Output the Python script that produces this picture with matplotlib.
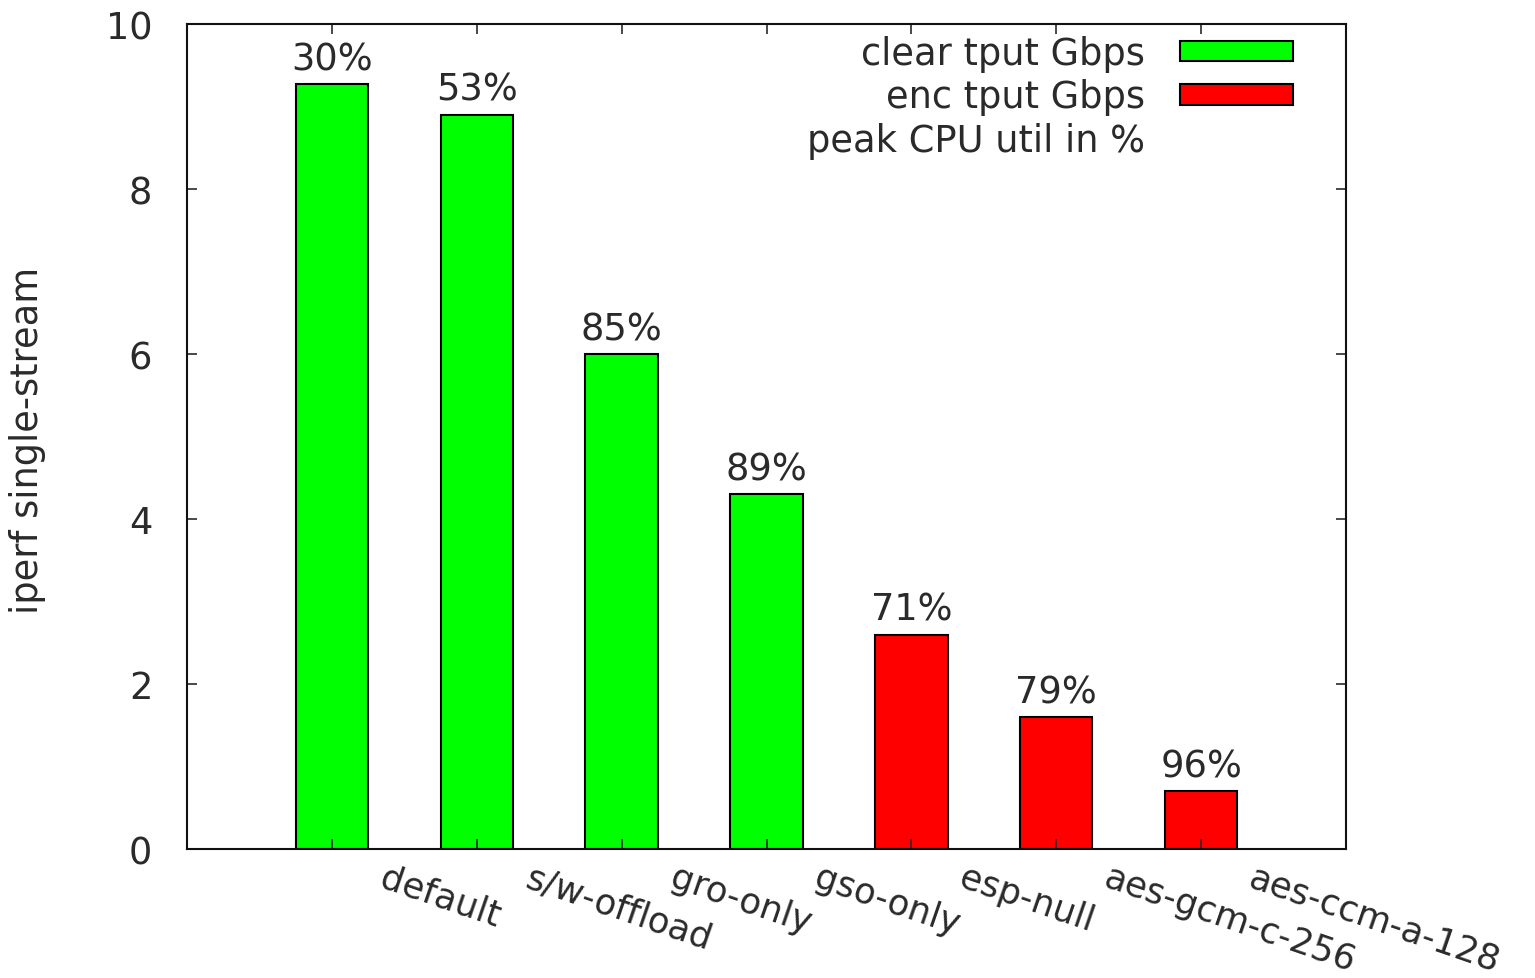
import numpy as np
import matplotlib.pyplot as plt
import matplotlib.transforms as mtransforms
from matplotlib.patches import Patch

# data
configs = ['default', 's/w-offload', 'gro-only', 'gso-only',
           'esp-null', 'aes-gcm-c-256', 'aes-ccm-a-128']
tput = [9.27, 8.9, 6.0, 4.3, 2.6, 1.6, 0.7]
cpu_pct = [30, 53, 85, 89, 71, 79, 96]
is_enc = [False, False, False, False, True, True, True]

green = '#00ff00'
red = '#ff0000'
txt = '#2a2a2a'
fs = 26.5

plt.rcParams['font.family'] = 'DejaVu Sans'
plt.rcParams['font.size'] = fs

fig = plt.figure(figsize=(15.35, 9.79), dpi=100)
ax = fig.add_axes([187/1535, 1-850/979, (1346-187)/1535, (850-25)/979])

x = np.arange(len(configs))
colors = [red if e else green for e in is_enc]
bars = ax.bar(x, tput, width=0.5, color=colors, edgecolor='black', linewidth=1.5)

for xi, v, p in zip(x, tput, cpu_pct):
    ax.annotate(f'{p}%', (xi, v), xytext=(0, 5), textcoords='offset points',
                ha='center', va='bottom', color=txt)

ax.set_xlim(-1, 7)
ax.set_ylim(0, 10)
ax.set_yticks(np.arange(0, 11, 2))
ax.set_xticks(x)
ax.set_xticklabels([])
ax.tick_params(axis='both', direction='in', length=7, width=1.2, colors=txt,
               top=True, right=True, labelsize=fs)
ax.tick_params(axis='y', pad=25)
for s in ax.spines.values():
    s.set_linewidth(1.5)
    s.set_color('#111111')

# rotated category labels, left-aligned a bit right of each bar
trans = mtransforms.blended_transform_factory(ax.transData, ax.transAxes)
for xi, name in zip(x, configs):
    ax.text(xi + 0.38, -11/825, name, transform=trans, rotation=-19,
            rotation_mode='anchor', ha='left', va='top', color=txt, fontsize=25.5)

fig.text(28/1535, 1-440/979, 'iperf single-stream', rotation=90,
         ha='center', va='center', color=txt, fontsize=fs)

handles = [Patch(facecolor=green, edgecolor='black', linewidth=1.5),
           Patch(facecolor=red, edgecolor='black', linewidth=1.5),
           Patch(facecolor='none', edgecolor='none')]
labels = ['clear tput Gbps', 'enc tput Gbps', 'peak CPU util in %']
leg = ax.legend(handles, labels, loc='upper right', markerfirst=False,
                frameon=False, handlelength=3.07, handleheight=0.49,
                handletextpad=0.95, labelspacing=0.17,
                bbox_to_anchor=(1293/1535, 1-36/979),
                bbox_transform=fig.transFigure, borderaxespad=0, borderpad=0)
for t in leg.get_texts():
    t.set_color(txt)

fig.savefig('out.png', dpi=100)
